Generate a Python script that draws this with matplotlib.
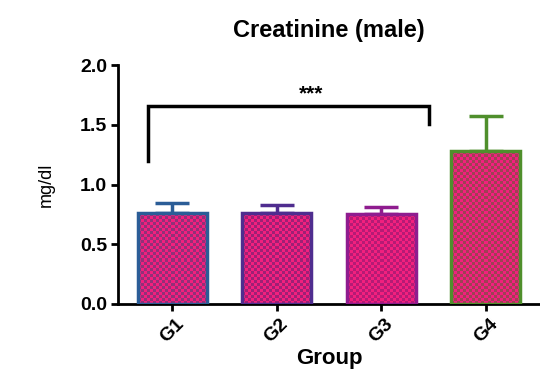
import numpy as np
import matplotlib
matplotlib.use('Agg')
import matplotlib.pyplot as plt
from matplotlib.colors import to_rgb

plt.rcParams['font.family'] = ['Liberation Sans', 'DejaVu Sans']

# Data
groups = ['G1', 'G2', 'G3', 'G4']
means = [0.76, 0.76, 0.75, 1.28]
errors = [0.085, 0.07, 0.065, 0.29]
edge_colors = ['#2b5d97', '#4f2d8f', '#8f1c8f', '#4f8f2c']
pink = '#f2207e'

# significance bracket between G1 and G3
sig_top = 1.66
sig_left_end = 1.20
sig_right_end = 1.51
sig_label = '***'

W, H = 540, 373
fig = plt.figure(figsize=(W / 100, H / 100), dpi=100)
ax = fig.add_axes([118 / W, 1 - 304 / H, (W - 118) / W, (304 - 65) / H])

xlim = (-0.517, 3.517)
ylim = (0, 2.0)
ax.set_xlim(*xlim)
ax.set_ylim(*ylim)

x = np.arange(len(groups))
bw = 0.66
bars = ax.bar(x, means, width=bw, facecolor='none', edgecolor=edge_colors,
              linewidth=2.5, zorder=3)

# checkered fill like the original pattern
dx = (xlim[1] - xlim[0]) / (W - 118)
dy = (ylim[1] - ylim[0]) / (304 - 65)
cell = 3
for b, c in zip(bars, edge_colors):
    x0, w, h = b.get_x(), b.get_width(), b.get_height()
    nc = int(round(w / dx / cell))
    nr = int(round(h / dy / cell))
    chk = (np.add.outer(np.arange(nr), np.arange(nc)) % 2).astype(float)
    dark = np.array(to_rgb(c)) * 0.75
    p = np.array(to_rgb(pink))
    img = chk[..., None] * p + (1 - chk[..., None]) * (0.55 * p + 0.45 * dark)
    im = ax.imshow(img, extent=(x0, x0 + w, 0, h), aspect='auto',
                   interpolation='nearest', zorder=2)
    im.set_clip_path(b)

for xi, m, e, c in zip(x, means, errors, edge_colors):
    ax.errorbar(xi, m, yerr=[[0], [e]], color=c, capsize=12, capthick=2.5,
                elinewidth=2.5, zorder=1)

# bracket
xl, xr = -0.23, 2.46
ax.plot([xl, xl, xr, xr], [sig_left_end, sig_top, sig_top, sig_right_end],
        color='black', linewidth=2.5, solid_joinstyle='miter', clip_on=False)
ax.text(1.33, sig_top + 0.02, sig_label, ha='center', va='bottom',
        fontsize=15, fontweight='bold')

ax.set_yticks([0, 0.5, 1.0, 1.5, 2.0])
ax.set_yticklabels(['0.0', '0.5', '1.0', '1.5', '2.0'], fontweight='bold', fontsize=14)
ax.set_xticks(x)
ax.set_xticklabels(groups, rotation=45, fontweight='bold', fontsize=14,
                   ha='center', va='top')
ax.tick_params(axis='both', width=2, length=5, direction='out', pad=3)

for s in ['top', 'right']:
    ax.spines[s].set_visible(False)
for s in ['left', 'bottom']:
    ax.spines[s].set_linewidth(2)

ax.set_xlabel('Group', fontweight='bold', fontsize=16, labelpad=2)
ax.set_ylabel('mg/dl', fontsize=13, labelpad=18)
ax.set_title('Creatinine (male)', fontweight='bold', fontsize=17, pad=20)

fig.savefig('out.png', dpi=100)
